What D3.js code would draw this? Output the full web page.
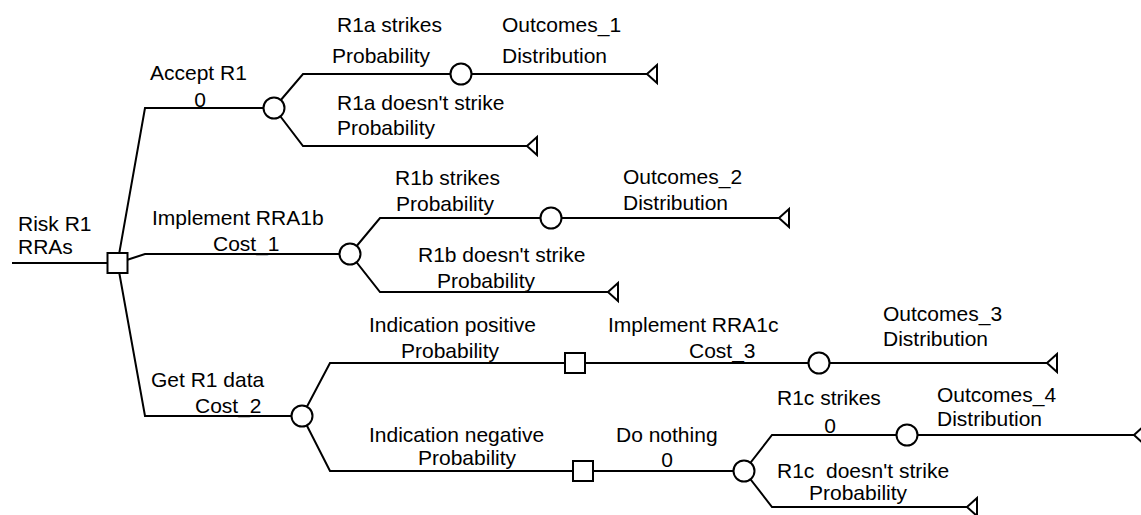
<!DOCTYPE html>
<html>
<head>
<meta charset="utf-8">
<script src="https://cdn.jsdelivr.net/npm/d3@7"></script>
<style>
  body { margin: 0; background: #fff; }
  svg { display: block; }
</style>
</head>
<body>
<svg id="tree" width="1141" height="515"></svg>
<script>
// tree content
var nodeIds    = ['root', 'n1', 'n2', 'n3', 'n4', 't1', 't2', 'n5', 't3', 't4', 'd1', 'd2', 'n6', 't5', 'n7', 'n8', 't6', 't7'];
var nodeKinds  = ['decision', 'chance', 'chance', 'chance', 'chance', 'end', 'end', 'chance', 'end', 'end',
                  'decision', 'decision', 'chance', 'end', 'chance', 'chance', 'end', 'end'];
var parentIds  = [null, 'root', 'root', 'root', 'n1', 'n1', 'n4', 'n2', 'n2', 'n5', 'n3', 'n3', 'd1', 'n6', 'd2', 'n7', 'n8', 'n7'];
var branchNames  = ['Risk R1', 'Accept R1', 'Implement RRA1b', 'Get R1 data', 'R1a strikes', "R1a doesn't strike",
                    'Outcomes_1', 'R1b strikes', "R1b doesn't strike", 'Outcomes_2', 'Indication positive',
                    'Indication negative', 'Implement RRA1c', 'Outcomes_3', 'Do nothing', 'R1c strikes',
                    'Outcomes_4', "R1c  doesn't strike"];
var branchValues = ['RRAs', '0', 'Cost_1', 'Cost_2', 'Probability', 'Probability', 'Distribution', 'Probability',
                    'Probability', 'Distribution', 'Probability', 'Probability', 'Cost_3', 'Distribution', '0', '0',
                    'Distribution', 'Probability'];

// layout (page units)
var nodeAt = {
  root: [117.5, 263], n1: [274, 108], n2: [350, 254], n3: [302, 416],
  n4: [461, 74], t1: [527, 146], t2: [647, 74],
  n5: [551, 218], t3: [608, 292], t4: [779, 218],
  d1: [575, 363], d2: [583, 471], n6: [819, 363], t5: [1047, 363],
  n7: [744, 471], n8: [907, 435], t6: [1134, 435], t7: [967, 507]
};
var forkX = { root: 145, n1: 303, n2: 380, n3: 330, n7: 772 };
var nameAt = {
  root: [18, 231], n1: [150, 80], n2: [152, 225], n3: [151, 387],
  n4: [337, 32], t1: [337, 110], t2: [502, 32],
  n5: [395, 185], t3: [418, 262], t4: [623, 184],
  d1: [369, 332], d2: [369, 442], n6: [608, 332], t5: [883, 321],
  n7: [616, 442], n8: [777, 405], t6: [937, 402], t7: [777, 478]
};
var valueAt = {
  root: [18, 254, 'start'], n1: [200, 107, 'middle'], n2: [213, 251, 'start'], n3: [195, 413, 'start'],
  n4: [332, 63, 'start'], t1: [337, 135, 'start'], t2: [502, 63, 'start'],
  n5: [396, 211, 'start'], t3: [437, 288, 'start'], t4: [623, 210, 'start'],
  d1: [401, 358, 'start'], d2: [418, 465, 'start'], n6: [689, 358, 'start'], t5: [883, 346, 'start'],
  n7: [667, 467, 'middle'], n8: [830, 433, 'middle'], t6: [937, 426, 'start'], t7: [809, 500, 'start']
};

var svg = d3.select('#tree');
var width = +svg.attr('width'),
    height = +svg.attr('height');

var x = d3.scaleLinear().domain([0, 1141]).range([0, width]);
var y = d3.scaleLinear().domain([0, 515]).range([0, height]);

var nodes = nodeIds.map(function(id, i) {
  return { id: id, kind: nodeKinds[i], parent: parentIds[i], name: branchNames[i], value: branchValues[i] };
});

var line = d3.line().x(function(p) { return x(p[0]); }).y(function(p) { return y(p[1]); });

function edgePoints(d) {
  var c = nodeAt[d.id];
  if (!d.parent) return [[12, c[1]], c];
  var p = nodeAt[d.parent];
  var fx = forkX[d.parent] !== undefined ? forkX[d.parent] : p[0];
  return [p, [fx, c[1]], c];
}

var g = svg.append('g');

g.selectAll('path.edge')
  .data(nodes)
  .join('path')
  .attr('class', 'edge')
  .attr('d', function(d) { return line(edgePoints(d)); })
  .style('fill', 'none')
  .style('stroke', '#000')
  .style('stroke-width', 2);

var marks = g.selectAll('g.node')
  .data(nodes)
  .join('g')
  .attr('class', 'node')
  .attr('transform', function(d) { return 'translate(' + x(nodeAt[d.id][0]) + ',' + y(nodeAt[d.id][1]) + ')'; });

marks.filter(function(d) { return d.kind === 'decision'; })
  .append('rect')
  .attr('x', -10).attr('y', -10).attr('width', 20).attr('height', 20);

marks.filter(function(d) { return d.kind === 'chance'; })
  .append('circle')
  .attr('r', 10.5);

marks.filter(function(d) { return d.kind === 'end'; })
  .append('path')
  .attr('d', 'M0,0L10,-9L10,9Z');

marks.selectAll('rect, circle, path')
  .style('fill', '#fff')
  .style('stroke', '#000')
  .style('stroke-width', 2);

var labels = svg.append('g')
  .style('font-family', '"Liberation Sans", Arial, sans-serif')
  .style('font-size', '21px')
  .style('fill', '#000');

labels.selectAll('text.name')
  .data(nodes)
  .join('text')
  .attr('class', 'name')
  .attr('x', function(d) { return x(nameAt[d.id][0]); })
  .attr('y', function(d) { return y(nameAt[d.id][1]); })
  .style('white-space', 'pre')
  .text(function(d) { return d.name; });

labels.selectAll('text.value')
  .data(nodes)
  .join('text')
  .attr('class', 'value')
  .attr('x', function(d) { return x(valueAt[d.id][0]); })
  .attr('y', function(d) { return y(valueAt[d.id][1]); })
  .attr('text-anchor', function(d) { return valueAt[d.id][2]; })
  .text(function(d) { return d.value; });
</script>
</body>
</html>
